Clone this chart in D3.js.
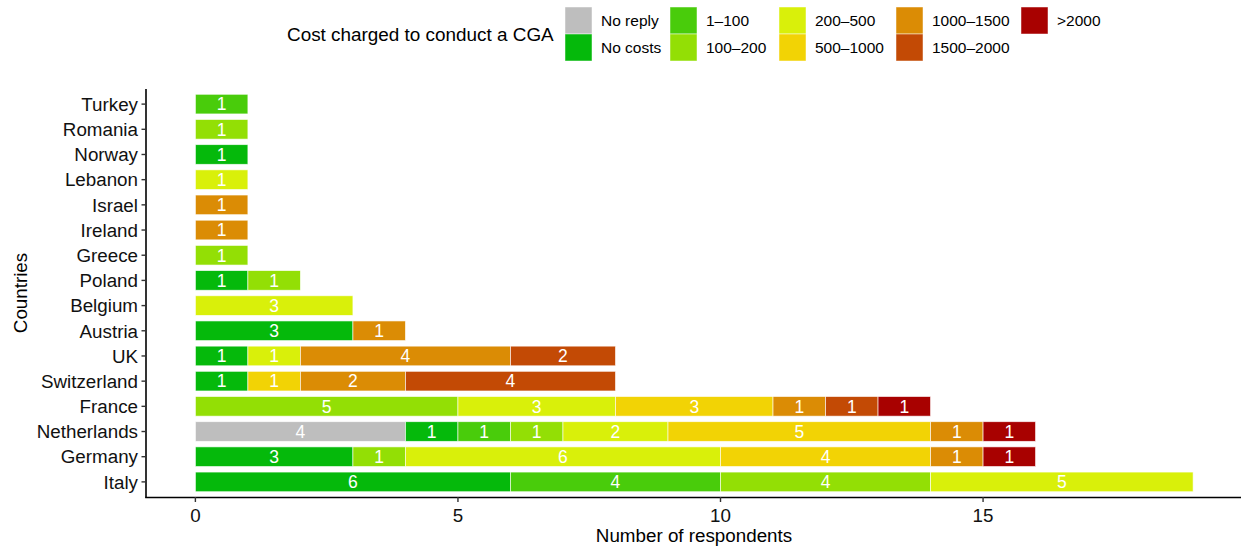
<!DOCTYPE html>
<html><head><meta charset="utf-8">
<script src="https://cdn.jsdelivr.net/npm/d3@7"></script>
<style>body{margin:0;background:#fff;}svg{display:block;font-family:"Liberation Sans",Arial,sans-serif;}</style>
</head><body>
<svg id="chart" width="1241" height="548"></svg>
<script>
const countries = ["Turkey","Romania","Norway","Lebanon","Israel","Ireland","Greece","Poland","Belgium","Austria","UK","Switzerland","France","Netherlands","Germany","Italy"];
const categories = ["No reply","No costs","1–100","100–200","200–500","500–1000","1000–1500","1500–2000",">2000"];
const colors = ["#BEBEBE","#05B90B","#49CC0B","#93DF05","#D9F00A","#F2D305","#DB8C05","#C34A05","#A80100"];
// series values, one per category, in country order above
const noReply   = [0,0,0,0,0,0,0,0,0,0,0,0,0,4,0,0];
const noCosts   = [0,0,1,0,0,0,0,1,0,3,1,1,0,1,3,6];
const c1_100    = [1,0,0,0,0,0,0,0,0,0,0,0,0,1,0,4];
const c100_200  = [0,1,0,0,0,0,1,1,0,0,0,0,5,1,1,4];
const c200_500  = [0,0,0,1,0,0,0,0,3,0,1,0,3,2,6,5];
const c500_1000 = [0,0,0,0,0,0,0,0,0,0,0,1,3,5,4,0];
const c1000_1500= [0,0,0,0,1,1,0,0,0,1,4,2,1,1,1,0];
const c1500_2000= [0,0,0,0,0,0,0,0,0,0,2,4,1,0,0,0];
const cOver2000 = [0,0,0,0,0,0,0,0,0,0,0,0,1,1,1,0];
const seriesValues = [noReply,noCosts,c1_100,c100_200,c200_500,c500_1000,c1000_1500,c1500_2000,cOver2000];
const xTicks = [0,5,10,15];

const svg = d3.select("#chart");
const panel = {left:145.5, right:1243, top:89, bottom:497};

const rows = countries.map((c,i)=>{const r={country:c}; categories.forEach((k,j)=>r[k]=seriesValues[j][i]); return r;});
const stacked = d3.stack().keys(categories)(rows);
const maxTotal = d3.max(rows, r=>d3.sum(categories, k=>r[k]));

const x = d3.scaleLinear().domain([-0.05*maxTotal, maxTotal*1.05]).range([panel.left, panel.right]);
// ggplot-like discrete scale with 0.6 unit expansion
const y = d3.scalePoint().domain(countries).range([panel.top, panel.bottom]).padding(0.6);
const step = y.step();
const barH = step*0.78;
const color = d3.scaleOrdinal().domain(categories).range(colors);

const g = svg.append("g");
stacked.forEach(layer=>{
  const key = layer.key;
  layer.forEach((d,i)=>{
    const v = d[1]-d[0];
    if(v<=0) return;
    const c = countries[i];
    g.append("rect")
      .attr("x", x(d[0])).attr("width", x(d[1])-x(d[0]))
      .attr("y", y(c)-barH/2).attr("height", barH)
      .attr("fill", color(key))
      .attr("stroke","#ffffff").attr("stroke-opacity",0.75).attr("stroke-width",0.8);
    g.append("text")
      .attr("x", x((d[0]+d[1])/2)).attr("y", y(c))
      .attr("dy","0.36em").attr("text-anchor","middle")
      .attr("fill","#ffffff").attr("font-size","17.5px")
      .text(v);
  });
});

// axes
const axisCol = "#000";
svg.append("line").attr("x1",panel.left+0.5).attr("x2",panel.left+0.5).attr("y1",panel.top).attr("y2",panel.bottom+0.8)
  .attr("stroke",axisCol).attr("stroke-width",1.6);
svg.append("line").attr("x1",panel.left-0.3).attr("x2",panel.right).attr("y1",panel.bottom+0.5).attr("y2",panel.bottom+0.5)
  .attr("stroke",axisCol).attr("stroke-width",1.6);

countries.forEach(c=>{
  svg.append("line").attr("x1",panel.left-4).attr("x2",panel.left).attr("y1",y(c)).attr("y2",y(c)).attr("stroke","#333").attr("stroke-width",1.4);
  svg.append("text").attr("x",panel.left-7.5).attr("y",y(c)).attr("dy","0.36em").attr("text-anchor","end")
    .attr("font-size","18.8px").attr("fill","#111").text(c);
});
xTicks.forEach(t=>{
  svg.append("line").attr("x1",x(t)).attr("x2",x(t)).attr("y1",panel.bottom).attr("y2",panel.bottom+5).attr("stroke","#333").attr("stroke-width",1.4);
  svg.append("text").attr("x",x(t)).attr("y",panel.bottom+11).attr("dy","0.72em").attr("text-anchor","middle")
    .attr("font-size","18.8px").attr("fill","#111").text(t);
});
svg.append("text").attr("x",694).attr("y",542).attr("text-anchor","middle")
  .attr("font-size","18.8px").attr("fill","#000").text("Number of respondents");
svg.append("text").attr("transform",`translate(27,${(panel.top+panel.bottom)/2}) rotate(-90)`).attr("text-anchor","middle")
  .attr("font-size","18.8px").attr("fill","#000").text("Countries");

// legend
const lg = svg.append("g");
lg.append("text").attr("x",287).attr("y",34).attr("dy","0.36em").attr("font-size","18.9px").attr("fill","#000").text("Cost charged to conduct a CGA");
const colX = [565,670,779,896,1021];
const keyS = 27, rowY = [7,34];
categories.forEach((k,i)=>{
  const col = Math.floor(i/2), row = i%2;
  lg.append("rect").attr("x",colX[col]).attr("y",rowY[row]).attr("width",keyS).attr("height",keyS)
    .attr("fill",color(k)).attr("stroke","#ffffff").attr("stroke-opacity",0.6).attr("stroke-width",0.8);
  lg.append("text").attr("x",colX[col]+keyS+9).attr("y",rowY[row]+keyS/2).attr("dy","0.36em")
    .attr("font-size","15.5px").attr("fill","#000").text(k);
});
</script>
</body></html>
